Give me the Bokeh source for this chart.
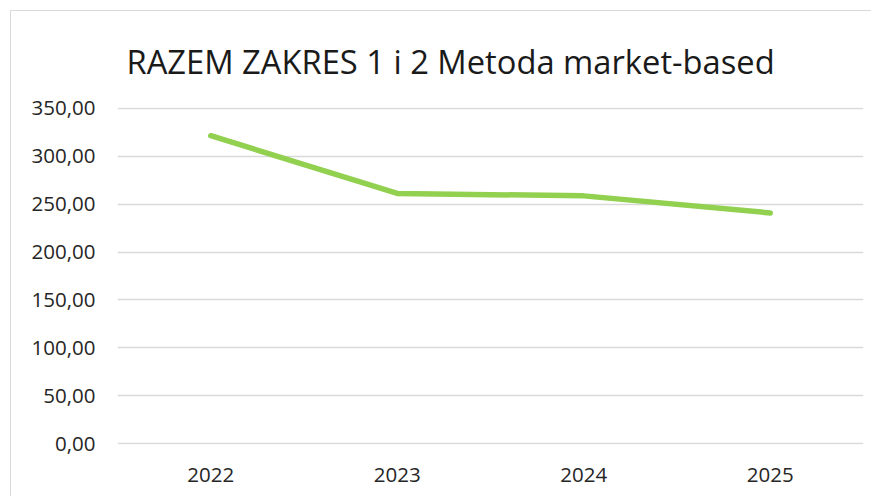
from bokeh.plotting import figure
from bokeh.models import CustomJSTickFormatter, FixedTicker
from bokeh.embed import file_html
from bokeh.resources import INLINE

years = ["2022", "2023", "2024", "2025"]
values = [321.5, 261.3, 258.7, 240.9]
y_ticks = [0, 50, 100, 150, 200, 250, 300, 350]
title_text = "RAZEM ZAKRES 1 i 2 Metoda market-based"

FONT = "Open Sans"

p = figure(x_range=years, y_range=(-1, 351), width=861, height=486,
           title=title_text,
           output_backend="svg", toolbar_location=None,
           min_border_left=106, min_border_right=9, min_border_top=96, min_border_bottom=53)
p.styles = {"box-shadow": "-1px -1px 0 0 #d9d9d9", "margin-left": "11px", "margin-top": "11px"}
p.outline_line_color = None
p.background_fill_color = "white"
p.border_fill_color = "white"

p.x_range.range_padding = 0

p.line(years, values, line_color="#92D050", line_width=5.5, line_cap="round", line_join="round")

p.title.align = "left"
p.title.offset = 9
p.title.standoff = 47
p.title.text_font = FONT
p.title.text_font_size = "32.7px"
p.title.text_font_style = "normal"
p.title.text_color = "#1a1a1a"

p.yaxis.ticker = FixedTicker(ticks=y_ticks)
p.yaxis.formatter = CustomJSTickFormatter(code="return tick.toFixed(2).replace('.', ',');")
for ax in (p.xaxis, p.yaxis):
    ax.axis_line_color = None
    ax.major_tick_line_color = None
    ax.minor_tick_line_color = None
    ax.major_tick_out = 0
    ax.major_tick_in = 0
    ax.major_label_text_font = FONT
    ax.major_label_text_font_size = "20.5px"
    ax.major_label_text_color = "#262626"
p.yaxis.major_label_standoff = 22
p.xaxis.major_label_standoff = 23

p.xgrid.grid_line_color = None
p.ygrid.grid_line_color = "#d9d9d9"
p.ygrid.grid_line_width = 1.5

open("out.html", "w").write(file_html(p, INLINE))
